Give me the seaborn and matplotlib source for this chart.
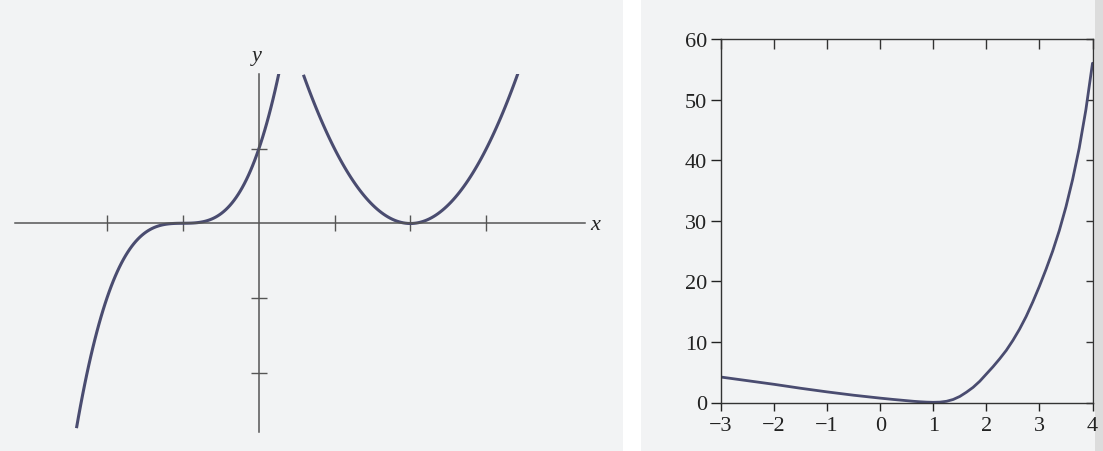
import numpy as np
import pandas as pd
import matplotlib
matplotlib.use("Agg")
import matplotlib.pyplot as plt
import seaborn as sns

# Left panel: a cubic with a triple root at x = -1 and a parabola with a double root at x = 2
cubic_x = [-2.4, -2.2, -2.0, -1.8, -1.6, -1.4, -1.2, -1.0, -0.8, -0.6, -0.4, -0.2, 0.0, 0.2, 0.27]
cubic_y = [-2.74, -1.73, -1.0, -0.51, -0.22, -0.06, -0.01, 0.0, 0.01, 0.06, 0.22, 0.51, 1.0, 1.73, 2.0]
parab_x = [0.59, 0.8, 1.0, 1.2, 1.4, 1.6, 1.8, 2.0, 2.2, 2.4, 2.6, 2.8, 3.0, 3.2, 3.42]
parab_y = [1.99, 1.44, 1.0, 0.64, 0.36, 0.16, 0.04, 0.0, 0.04, 0.16, 0.36, 0.64, 1.0, 1.44, 2.02]
left_xticks = [-2, -1, 1, 2, 3]
left_yticks = [-2, -1, 1]

# Right panel: function with a flat root near x = 1
f_x = [-3, -2.5, -2, -1.5, -1, -0.5, 0, 0.25, 0.5, 0.625, 0.75, 0.875, 1,
       1.125, 1.25, 1.375, 1.5, 1.625, 1.75, 1.875, 2, 2.125, 2.25, 2.375, 2.5,
       2.625, 2.75, 2.875, 3, 3.125, 3.25, 3.375, 3.5, 3.625, 3.75, 3.875, 4]
f_y = [4.2, 3.6, 3.0, 2.35, 1.75, 1.2, 0.72, 0.5, 0.3, 0.2, 0.12, 0.06, 0.03,
       0.06, 0.2, 0.5, 1.0, 1.7, 2.5, 3.5, 4.7, 5.9, 7.2, 8.6, 10.25,
       12.1, 14.2, 16.6, 19.2, 22.0, 25.0, 28.4, 32.3, 36.8, 42.0, 48.3, 56.0]
right_xticks = [-3, -2, -1, 0, 1, 2, 3, 4]
right_yticks = [0, 10, 20, 30, 40, 50, 60]

sns.set_theme(style="white")
plt.rcParams["font.family"] = ["Liberation Serif", "DejaVu Serif"]
plt.rcParams["axes.unicode_minus"] = True

W, H = 1103, 452
fig = plt.figure(figsize=(W / 100, H / 100), dpi=100)
fig.patch.set_facecolor("white")

paper = "#f2f3f4"
curve_col = "#4a4c70"

# page backgrounds
fig.patches.append(plt.Rectangle((0, 0), 623 / W, 1, transform=fig.transFigure,
                                 facecolor=paper, edgecolor="none", zorder=-10))
fig.patches.append(plt.Rectangle((641 / W, 0), (1095 - 641) / W, 1, transform=fig.transFigure,
                                 facecolor=paper, edgecolor="none", zorder=-10))
fig.patches.append(plt.Rectangle((1095 / W, 0), 8 / W, 1, transform=fig.transFigure,
                                 facecolor="#dcdcdc", edgecolor="none", zorder=-10))

def px_axes(x0, y0, x1, y1):
    return fig.add_axes([x0 / W, (H - y1) / H, (x1 - x0) / W, (y1 - y0) / H])

# ---- left panel
ax1 = px_axes(15, 75, 585, 433)
ax1.set_facecolor("none")
ax1.set_xlim(-3.21, 4.30)
ax1.set_ylim(-2.79, 2.0)
df_c = pd.DataFrame({"x": cubic_x, "y": cubic_y})
df_p = pd.DataFrame({"x": parab_x, "y": parab_y})
sns.regplot(data=df_c, x="x", y="y", order=3, ci=None, scatter=False, ax=ax1,
            line_kws=dict(color=curve_col, lw=2.2, solid_capstyle="butt"))
sns.regplot(data=df_p, x="x", y="y", order=2, ci=None, scatter=False, ax=ax1,
            line_kws=dict(color=curve_col, lw=2.2, solid_capstyle="butt"))
for side in ("top", "right"):
    ax1.spines[side].set_visible(False)
for side in ("left", "bottom"):
    ax1.spines[side].set_position(("data", 0))
    ax1.spines[side].set_color("#555555")
    ax1.spines[side].set_linewidth(1.1)
ax1.set_xticks(left_xticks)
ax1.set_yticks(left_yticks)
ax1.tick_params(axis="both", direction="inout", length=12, width=1.0, color="#555555",
                bottom=True, left=True, labelbottom=False, labelleft=False)
ax1.set_xlabel("")
ax1.set_ylabel("")
fig.text(595 / W, 1 - 226 / H, "x", ha="center", va="center", fontsize=16, style="italic")
fig.text(257 / W, 1 - 57 / H, "y", ha="center", va="center", fontsize=16, style="italic")

# ---- right panel
ax2 = px_axes(721, 40, 1092.5, 403.5)
ax2.set_facecolor("none")
sns.lineplot(x=f_x, y=f_y, ax=ax2, color=curve_col, lw=2.0)
ax2.set_xlim(-3, 4)
ax2.set_ylim(0, 60)
ax2.set_xticks(right_xticks)
ax2.set_yticks(right_yticks)
for s in ax2.spines.values():
    s.set_color("#333333")
    s.set_linewidth(1.0)
ax2.tick_params(axis="both", which="major", colors="#222222", labelsize=16)
ax2.tick_params(axis="x", bottom=True, top=False, direction="out", length=6, width=1.0, pad=4)
ax2.tick_params(axis="y", left=True, right=False, direction="out", length=7, width=1.0, pad=3)
# inward ticks on the opposite sides
ax2t = ax2.secondary_xaxis("top")
ax2t.set_xticks(right_xticks)
ax2t.tick_params(direction="in", length=7, width=1.0, color="#333333", top=True, labeltop=False)
ax2r = ax2.secondary_yaxis("right")
ax2r.set_yticks(right_yticks)
ax2r.tick_params(direction="in", length=5, width=1.0, color="#333333", right=True, labelright=False)
for sec in (ax2t, ax2r):
    for s in sec.spines.values():
        s.set_visible(False)
ax2.set_xlabel("")
ax2.set_ylabel("")

fig.savefig("out.png", dpi=100, facecolor=fig.get_facecolor())
